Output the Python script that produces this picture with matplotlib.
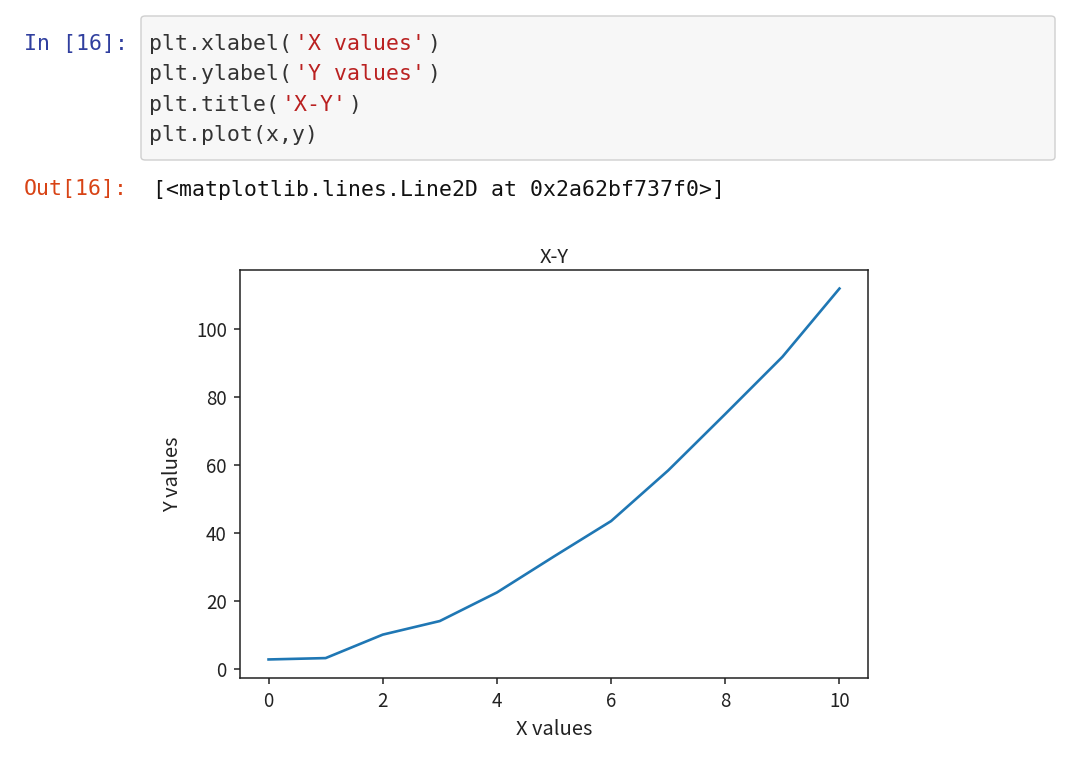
import matplotlib
matplotlib.use("Agg")
import matplotlib.pyplot as plt
from matplotlib.patches import FancyBboxPatch

# data
x = [0, 1, 2, 3, 4, 5, 6, 7, 8, 9, 10]
y = [2.9, 3.3, 10.2, 14.2, 22.6, 33.2, 43.6, 58.5, 75.1, 91.9, 112.0]

code_lines = [
    [("plt.xlabel(", "#333333"), ("'X values'", "#ba2121"), (")", "#333333")],
    [("plt.ylabel(", "#333333"), ("'Y values'", "#ba2121"), (")", "#333333")],
    [("plt.title(", "#333333"), ("'X-Y'", "#ba2121"), (")", "#333333")],
    [("plt.plot(x,y)", "#333333")],
]
out_text = "[<matplotlib.lines.Line2D at 0x2a62bf737f0>]"

W, H = 1072, 782
fig = plt.figure(figsize=(W / 100, H / 100), dpi=100)
fig.patch.set_facecolor("white")


def fx(px):
    return px / W


def fy(py):
    return 1 - py / H


mono = ["DejaVu Sans Mono", "Liberation Mono"]
mono_size = 15.5
char_w = 13.2  # px per character

# code cell box
box = FancyBboxPatch((fx(141), fy(160)), fx(1055) - fx(141), fy(16) - fy(160),
                     boxstyle="round,pad=0,rounding_size=0.004",
                     transform=fig.transFigure, facecolor="#f7f7f7",
                     edgecolor="#cfcfcf", linewidth=1)
fig.patches.append(box)

fig.text(fx(128), fy(44), "In [16]:", family=mono, fontsize=mono_size,
         color="#303f9f", ha="right", va="center")
fig.text(fx(128), fy(189), "Out[16]:", family=mono, fontsize=mono_size,
         color="#d84315", ha="right", va="center")

line_y = [44, 74, 105, 135]
for parts, ly in zip(code_lines, line_y):
    cx = 149
    for txt, col in parts:
        fig.text(fx(cx), fy(ly), txt, family=mono, fontsize=mono_size,
                 color=col, ha="left", va="center")
        cx += len(txt) * char_w + 0.5

fig.text(fx(153), fy(190), out_text, family=mono, fontsize=mono_size,
         color="#111111", ha="left", va="center")

# the plot itself
plot_font = ["Noto Sans CJK KR", "DejaVu Sans"]
ax = fig.add_axes([fx(240), fy(678), fx(868) - fx(240), fy(270) - fy(678)])
ax.plot(x, y, color="#1f77b4", linewidth=1.9)
ax.set_xticks([0, 2, 4, 6, 8, 10])
ax.set_yticks([0, 20, 40, 60, 80, 100])
for s in ax.spines.values():
    s.set_linewidth(1.1)
    s.set_color("#222222")
ax.tick_params(length=4.5, width=1.1, labelsize=13.5, colors="#222222", pad=5)
for lab in ax.get_xticklabels() + ax.get_yticklabels():
    lab.set_family(plot_font)
ax.set_xlabel("X values", family=plot_font, fontsize=14.5, color="#222222", labelpad=5)
ax.set_ylabel("Y values", family=plot_font, fontsize=14.5, color="#222222", labelpad=9)
ax.set_title("X-Y", family=plot_font, fontsize=14.5, color="#222222", pad=5)

fig.savefig("out.png", dpi=100)
